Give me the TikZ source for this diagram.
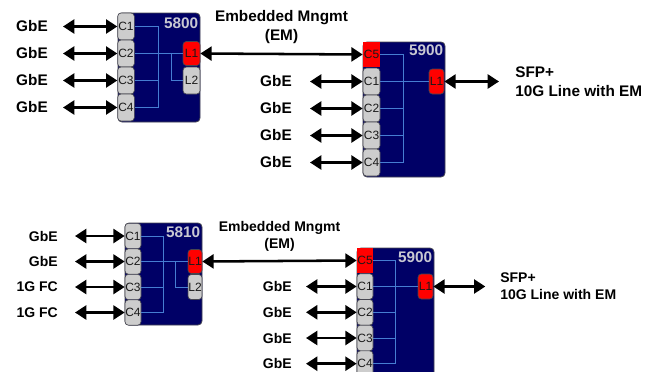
\documentclass[tikz,border=0pt]{standalone}
\usepackage{fontspec}
\setmainfont{Liberation Sans}
\usetikzlibrary{arrows.meta, positioning}
\definecolor{colNavy}{RGB}{0,0,102}
\definecolor{colEdge}{RGB}{70,70,80}
\definecolor{colPort}{RGB}{205,205,205}
\definecolor{colRed}{RGB}{255,0,0}
\definecolor{colBus}{RGB}{70,125,210}
\definecolor{colTag}{RGB}{200,200,210}
\tikzset{
  chassis/.style={
    rectangle, rounded corners=3pt,
    draw=colEdge, line width=0.6pt,
    fill=colNavy, inner sep=0pt
  },
  port/.style={
    rectangle, rounded corners=2.5pt,
    draw=colEdge, line width=0.5pt, fill=colPort,
    inner sep=0pt, minimum width=12.5pt, minimum height=20.25pt,
    font=\fontsize{9}{10}\selectfont, text=black!90
  },
  linePort/.style={port, fill=colRed},
  mgmtPort/.style={port, fill=colRed, rounded corners=0pt, draw=none},
  tag/.style={font=\bfseries\fontsize{11.5}{13}\selectfont, text=colTag, inner sep=0pt},
  lbl/.style={font=\bfseries\fontsize{11.5}{14}\selectfont, inner sep=0pt},
  lblS/.style={font=\bfseries\fontsize{10.5}{12.75}\selectfont, inner sep=0pt},
  bus/.style={draw=colBus, line width=0.6pt},
  arr/.style={{Triangle[length=8.5pt,width=10.5pt]}-{Triangle[length=8.5pt,width=10.5pt]}, line width=1.9pt},
}

\begin{document}
\begin{tikzpicture}[x=0.75pt, y=-0.75pt]
\useasboundingbox (0,0) rectangle (655,371);
\clip (0,0) rectangle (655,371);

% ---- Top: 5800 chassis ------------------------------------------
\node[chassis, minimum width=61.5pt, minimum height=81.75pt] (sw5800) at (159,67.5) {};
\node[port] (a1) at (126,26.5) {C1};
\node[port] (a2) at (126,53.5) {C2};
\node[port] (a3) at (126,80.5) {C3};
\node[port] (a4) at (126,107.5) {C4};
\node[linePort, minimum width=12.75pt, minimum height=18pt] (aL1) at (191.5,53.5) {L1};
\node[port, minimum width=12.75pt] (aL2) at (191.5,80.5) {L2};
\node[tag, anchor=north east] at ([xshift=-1.5pt,yshift=-3.5pt]sw5800.north east) {5800};

\draw[bus] (a1.east) -- ++(24,0) |- (a4.east);
\draw[bus] (a2.east) -- (aL1.west);
\draw[bus] (a3.east) -- ++(24,0);
\draw[bus] (aL1.west) ++(-11,0) |- (aL2.west);

% ---- Top: 5900 chassis ------------------------------------------
\node[chassis, minimum width=61.5pt, minimum height=101.25pt] (sw5900) at (404,109.5) {};
\node[mgmtPort, minimum width=12.75pt, minimum height=18.75pt] (b5) at (371.5,54.5) {C5};
\node[port, minimum width=12.75pt] (b1) at (371.5,81.5) {C1};
\node[port, minimum width=12.75pt] (b2) at (371.5,108.5) {C2};
\node[port, minimum width=12.75pt] (b3) at (371.5,135.5) {C3};
\node[port, minimum width=12.75pt] (b4) at (371.5,162.5) {C4};
\node[linePort, minimum width=11.25pt, minimum height=18.75pt] (bL1) at (436.5,81.5) {L1};
\node[tag, anchor=north east] at ([xshift=-1.5pt,yshift=-2.5pt]sw5900.north east) {5900};

\draw[bus] (b5.east) -- ++(23,0) |- (b4.east);
\draw[bus] (b1.east) -- (bL1.west);
\draw[bus] (b2.east) -- ++(23,0);
\draw[bus] (b3.east) -- ++(23,0);

% ---- Top: labels and links --------------------------------------
\node[lbl, anchor=east] (ga1) at (48,26.5) {GbE};
\node[lbl, anchor=east] (ga2) at (48,53.5) {GbE};
\node[lbl, anchor=east] (ga3) at (48,80.5) {GbE};
\node[lbl, anchor=east] (ga4) at (48,107.5) {GbE};
\node[lbl, anchor=east] (gb1) at (292,81.5) {GbE};
\node[lbl, anchor=east] (gb2) at (292,108.5) {GbE};
\node[lbl, anchor=east] (gb3) at (292,135.5) {GbE};
\node[lbl, anchor=east] (gb4) at (292,162.5) {GbE};
\node[lbl, anchor=west, align=left] (sfpTop) at (515,81.5) {SFP+\\10G Line with EM};

\foreach \i in {1,...,4} {
  \draw[arr] (ga\i.east) ++(15,0) -- (a\i.west);
  \draw[arr] (gb\i.east) ++(18,0) -- (b\i.west);
}
\draw[arr] (aL1.east) -- node[lbl, above=7pt, align=center] {Embedded Mngmt\\(EM)} (b5.west);
\draw[arr] (bL1.east) -- ([xshift=-12pt]sfpTop.west);

% ---- Bottom: 5810 chassis ---------------------------------------
\node[chassis, minimum width=57.75pt, minimum height=76.5pt] (sw5810) at (163.5,274) {};
\node[port, minimum width=12pt, minimum height=19pt] (c1) at (133,236) {C1};
\node[port, minimum width=12pt, minimum height=19pt] (c2) at (133,261.5) {C2};
\node[port, minimum width=12pt, minimum height=19pt] (c3) at (133,287) {C3};
\node[port, minimum width=12pt, minimum height=19pt] (c4) at (133,312.5) {C4};
\node[linePort, minimum width=10.5pt, minimum height=18pt] (cL1) at (195,261.5) {L1};
\node[port, minimum width=10.5pt, minimum height=18.75pt] (cL2) at (195,287) {L2};
\node[tag, anchor=north east] at ([xshift=-1.5pt,yshift=-3pt]sw5810.north east) {5810};

\draw[bus] (c1.east) -- ++(22,0) |- (c4.east);
\draw[bus] (c2.east) -- (cL1.west);
\draw[bus] (c3.east) -- ++(22,0);
\draw[bus] (cL1.west) ++(-12,0) |- (cL2.west);

% ---- Bottom: 5900 chassis ---------------------------------------
\node[chassis, minimum width=57.75pt, minimum height=99pt] (sw5900b) at (395.5,314) {};
\node[mgmtPort, minimum width=12pt, minimum height=18.75pt] (d5) at (365,260.5) {C5};
\node[port, minimum width=12pt, minimum height=19.25pt] (d1) at (365,286.5) {C1};
\node[port, minimum width=12pt, minimum height=19.25pt] (d2) at (365,312.3) {C2};
\node[port, minimum width=12pt, minimum height=19.25pt] (d3) at (365,338) {C3};
\node[port, minimum width=12pt, minimum height=19.25pt] (d4) at (365,363.7) {C4};
\node[linePort, minimum width=11.25pt, minimum height=18.75pt] (dL1) at (425.5,286.5) {L1};
\node[tag, anchor=north east] at ([xshift=-1.5pt,yshift=-3pt]sw5900b.north east) {5900};

\draw[bus] (d5.east) -- ++(22,0) |- (d4.east);
\draw[bus] (d1.east) -- (dL1.west);
\draw[bus] (d2.east) -- ++(22,0);
\draw[bus] (d3.east) -- ++(22,0);

% ---- Bottom: labels and links -----------------------------------
\node[lblS, anchor=east] (gc1) at (58,236) {GbE};
\node[lblS, anchor=east] (gc2) at (58,261.5) {GbE};
\node[lblS, anchor=east] (gc3) at (58,287) {1G FC};
\node[lblS, anchor=east] (gc4) at (58,312.5) {1G FC};
\node[lblS, anchor=east] (gd1) at (292,286.5) {GbE};
\node[lblS, anchor=east] (gd2) at (292,312.3) {GbE};
\node[lblS, anchor=east] (gd3) at (292,338) {GbE};
\node[lblS, anchor=east] (gd4) at (292,363.7) {GbE};
\node[lblS, anchor=west, align=left] (sfpBot) at (500,286.5) {SFP+\\10G Line with EM};

\foreach \i in {1,...,4} {
  \draw[arr] (gc\i.east) ++(17,0) -- (c\i.west);
  \draw[arr] (gd\i.east) ++(14,0) -- (d\i.west);
}
\draw[arr] (cL1.east) -- node[lblS, above=6pt, align=center] {Embedded Mngmt\\(EM)} (d5.west);
\draw[arr] (dL1.east) -- ([xshift=-11pt]sfpBot.west);

\end{tikzpicture}
\end{document}
